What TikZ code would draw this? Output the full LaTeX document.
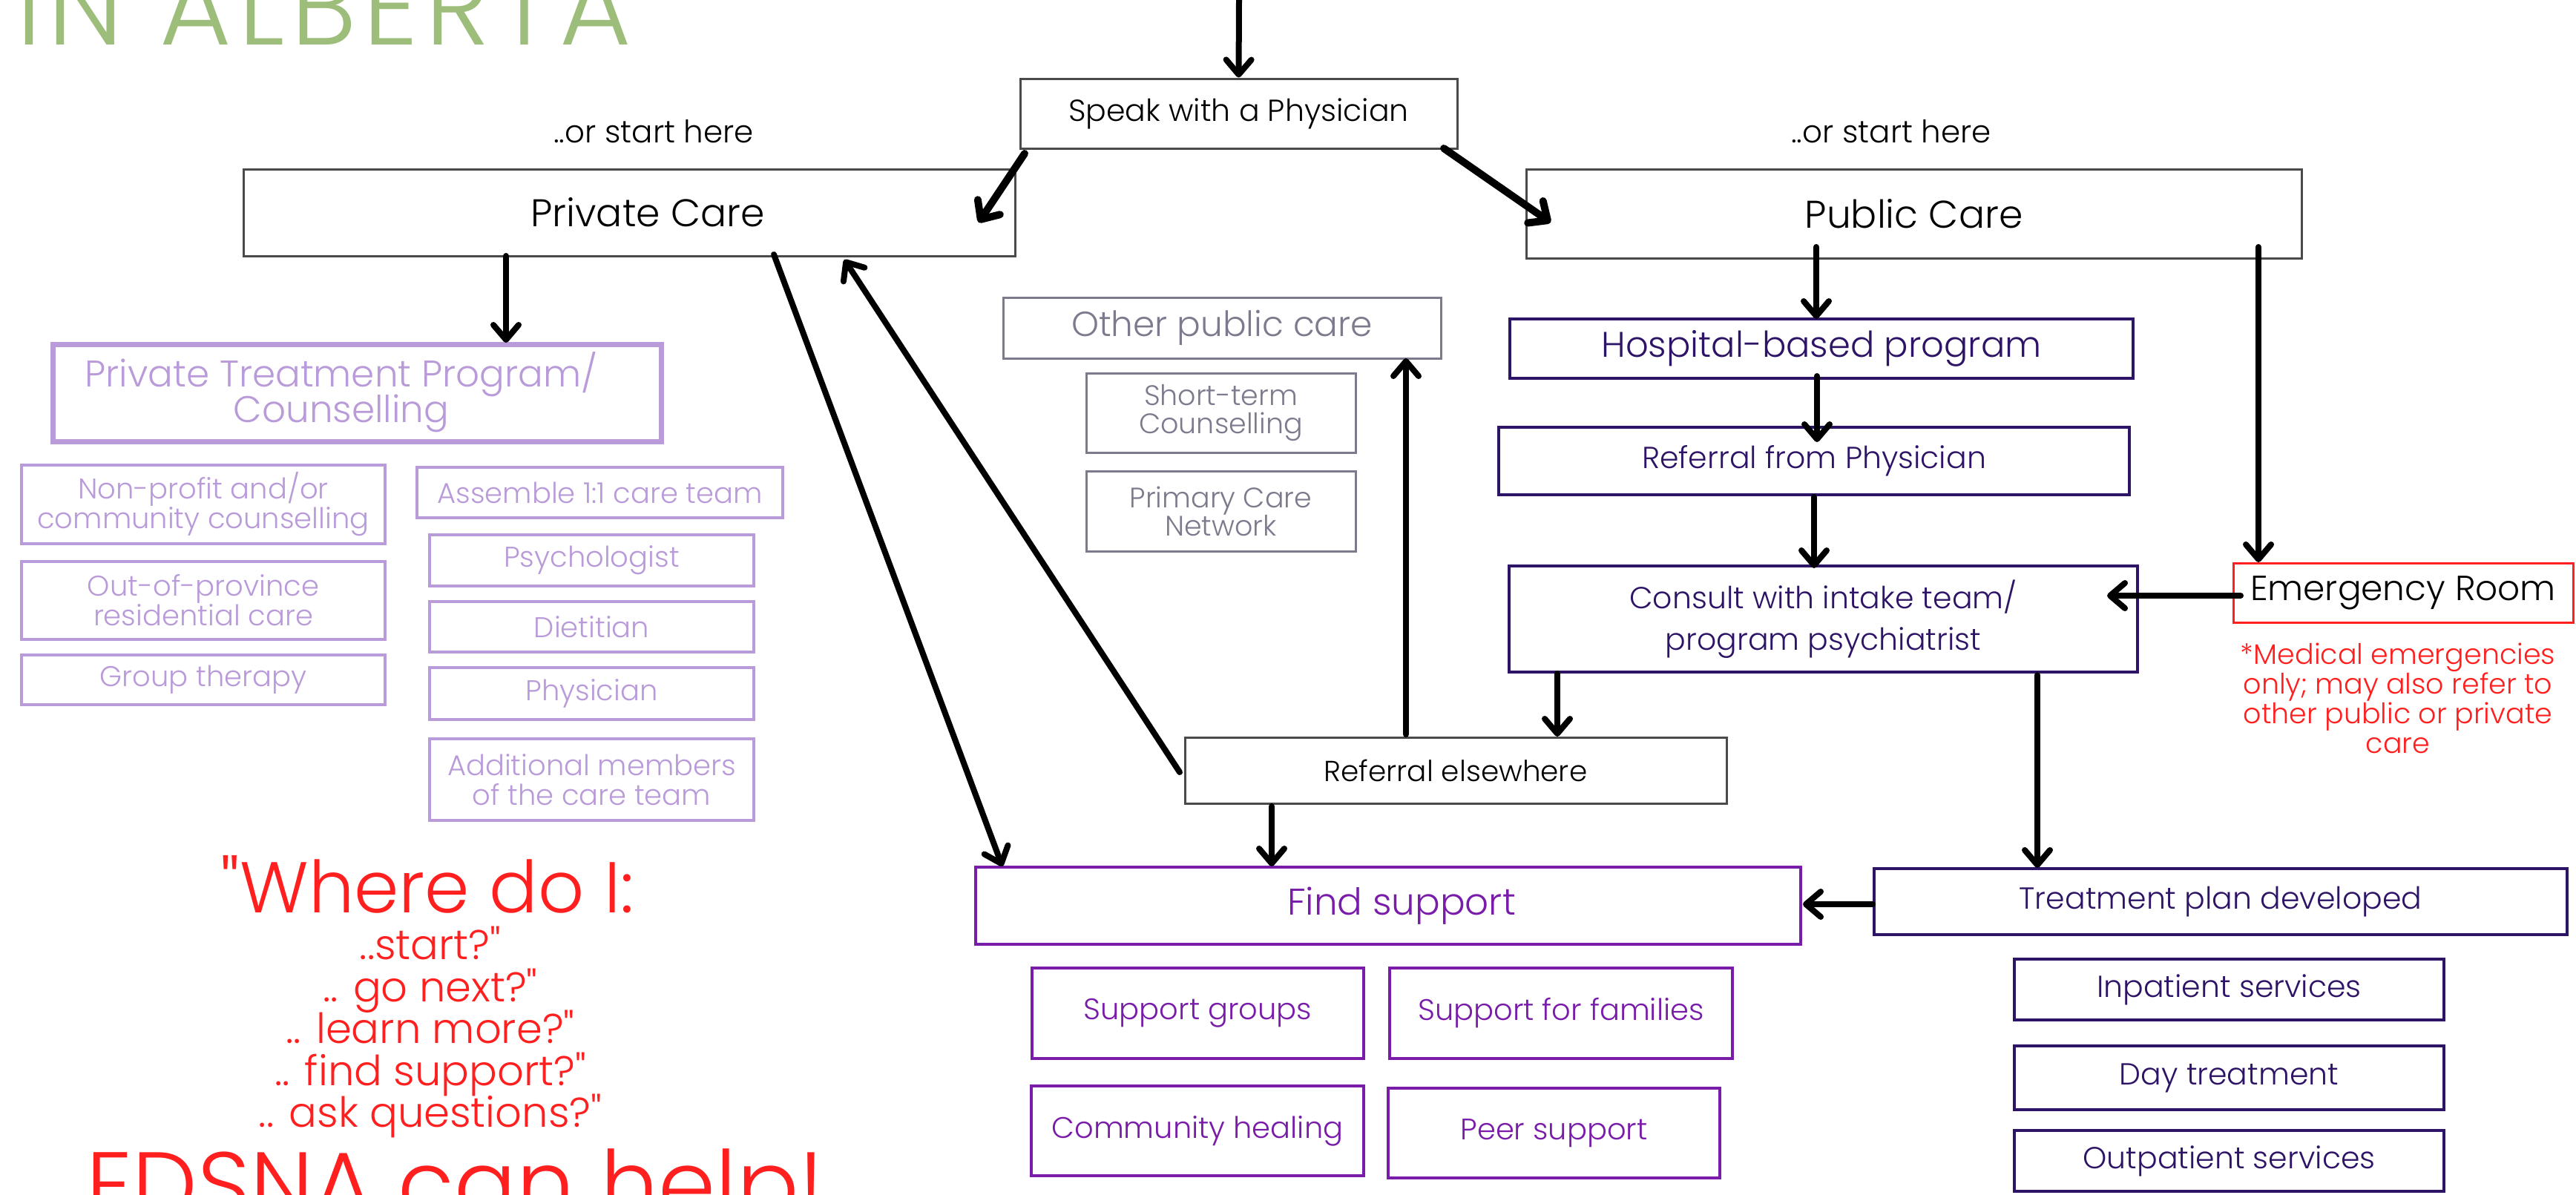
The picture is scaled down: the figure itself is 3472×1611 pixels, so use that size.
\documentclass[tikz,border=0pt]{standalone}
\usepackage{fontspec}
\setmainfont{Poppins Light}[Ligatures=TeXOff]
\usetikzlibrary{arrows.meta,calc}
\definecolor{gbox}{HTML}{4A4A4A}
\definecolor{hosp}{HTML}{2E1466}
\definecolor{findc}{HTML}{7A1CAA}
\definecolor{lpur}{HTML}{B99BDA}
\definecolor{opc}{HTML}{7C7A8C}
\definecolor{titleg}{HTML}{9DBD7A}
\definecolor{redc}{HTML}{FF1F1F}
\newcommand{\fsz}[1]{\fontsize{#1}{#1}\selectfont}
\newcommand{\fszl}[2]{\fontsize{#1}{#2}\selectfont}
\begin{document}
\begin{tikzpicture}[x=1pt,y=-1pt,
  bx/.style={draw=gbox, line width=3pt, inner sep=0pt, align=center, text=black},
  hbx/.style={draw=hosp, line width=4pt, inner sep=0pt, align=center, text=hosp},
  fbx/.style={draw=findc, line width=4pt, inner sep=0pt, align=center, text=findc},
  lbx/.style={draw=lpur, line width=4pt, inner sep=0pt, align=center, text=lpur},
  obx/.style={draw=opc, line width=3pt, inner sep=0pt, align=center, text=opc},
  rbx/.style={draw=redc, line width=3pt, inner sep=0pt, align=center, text=black},
  wh/.style 2 args={minimum width=#1pt, minimum height=#2pt},
  arr/.style={line width=8pt, line cap=round, -{Straight Barb[length=20pt,width=34pt,round]}},
  thickarr/.style={line width=10pt, line cap=round, -{Straight Barb[length=20pt,width=36pt,round]}},
  plain/.style={inner sep=0pt}
]
\useasboundingbox (0,0) rectangle (3472,1611);
\fill[white] (0,0) rectangle (3472,1611);

% title
\node[plain, anchor=base west, text=titleg] (title) at (22,60)
  {\fsz{148}\addfontfeatures{LetterSpace=6}IN ALBERTA};

% top row
\node[bx, wh={589}{94}, font=\fsz{41}] (speak) at (1669.5,153) {Speak with a Physician};
\node[plain, font=\fsz{42}] (orl) at (881,177) {..or start here};
\node[plain, font=\fsz{42}] (orr) at (2549,177) {..or start here};
\node[bx, wh={1040}{117}, font=\fsz{52}] (private) at (848,286.5) {\hspace*{50pt}Private Care};
\node[bx, wh={1045}{120}, font=\fsz{52}] (public) at (2579.5,288) {Public Care};

% public branch
\node[hbx, wh={840}{80}, font=\fsz{48}] (hosp) at (2455,470) {Hospital-based program};
\node[hbx, wh={850}{91}, font=\fsz{41}] (refphys) at (2445,621.5) {Referral from Physician};
\node[hbx, wh={847}{143}, font=\fszl{41}{56}] (consult) at (2457.5,834.5)
  {Consult with intake team/\\program psychiatrist};
\node[rbx, wh={458}{80}, font=\fsz{47}] (er) at (3239,799) {Emergency Room};
\node[plain, text=redc, align=center, font=\fszl{38}{40}] (ernote) at (3232,941)
  {*Medical emergencies\\only; may also refer to\\other public or private\\care};
\node[hbx, wh={934}{89}, font=\fsz{41}] (treat) at (2993,1215.5) {Treatment plan developed};
\node[hbx, wh={579}{82}, font=\fsz{41}] (inp) at (3004.5,1334) {Inpatient services};
\node[hbx, wh={579}{86}, font=\fsz{41}] (day) at (3004.5,1453) {Day treatment};
\node[hbx, wh={579}{82}, font=\fsz{41}] (outp) at (3004.5,1565) {Outpatient services};

% middle
\node[obx, wh={590}{82}, font=\fsz{47}] (opc) at (1647,442) {Other public care};
\node[obx, wh={363}{107}, font=\fszl{38}{38}] (short) at (1645.5,557) {Short-term\\Counselling};
\node[obx, wh={363}{108}, font=\fszl{38}{38}] (pcn) at (1645.5,689) {Primary Care\\Network};
\node[bx, wh={730}{89}, font=\fsz{39}] (refelse) at (1962,1038.5) {Referral elsewhere};
\node[fbx, wh={1112}{104}, font=\fsz{50}] (find) at (1871,1221) {\hspace*{36pt}Find support};
\node[fbx, wh={447}{122}, font=\fsz{40}] (sg) at (1614.5,1366) {Support groups};
\node[fbx, wh={462}{122}, font=\fsz{40}] (sf) at (2104,1366) {Support for families};
\node[fbx, wh={448}{121}, font=\fsz{40}] (ch) at (1614,1524.5) {Community healing};
\node[fbx, wh={447}{121}, font=\fsz{40}] (ps) at (2094.5,1527.5) {Peer support};

% left private branch
\node[lbx, line width=7pt, wh={820}{131}, font=\fsz{50}] (ptp) at (481,529.5)
  {\begin{tabular}{@{}c@{}}Private Treatment Program/\\[-4pt]Counselling\end{tabular}\hspace*{42pt}};
\node[lbx, wh={490}{106}, font=\fszl{38.5}{40}] (np) at (274,680) {Non-profit and/or\\community counselling};
\node[lbx, wh={490}{105}, font=\fszl{38.5}{40}] (oop) at (274,809.5) {Out-of-province\\residential care};
\node[lbx, wh={490}{67}, font=\fsz{38.5}] (gt) at (274,916.5) {Group therapy};
\node[lbx, wh={493}{68}, font=\fsz{38.5}] (asm) at (808.5,664) {Assemble 1:1 care team};
\node[lbx, wh={437}{69}, font=\fsz{38.5}] (psy) at (797.5,755.5) {Psychologist};
\node[lbx, wh={437}{68}, font=\fsz{38.5}] (diet) at (797.5,845) {Dietitian};
\node[lbx, wh={437}{70}, font=\fsz{38.5}] (phys) at (797.5,935) {Physician};
\node[lbx, wh={437}{110}, font=\fszl{38.5}{40}] (add) at (797.5,1051) {Additional members\\of the care team};

% red text
\node[plain, anchor=base, text=redc, font=\fsz{97}] (where) at (576,1230) {"Where do I:};
\node[plain, anchor=base, text=redc, font=\fsz{56}] (q1) at (580,1293) {..start?"};
\node[plain, anchor=base, text=redc, font=\fsz{56}] (q2) at (580,1350) {.. go next?"};
\node[plain, anchor=base, text=redc, font=\fsz{56}] (q3) at (580,1406) {.. learn more?"};
\node[plain, anchor=base, text=redc, font=\fsz{56}] (q4) at (580,1463) {.. find support?"};
\node[plain, anchor=base, text=redc, font=\fsz{56}] (q5) at (580,1519) {.. ask questions?"};
\node[plain, anchor=base west, text=redc, font=\fsz{124}] (edsna) at (116,1640) {EDSNA can help!};

% coordinates for connector ends
\coordinate (topin) at (1670,0);
\coordinate (sp1) at (1381,207);
\coordinate (sp2) at (1319,300);
\coordinate (sp3) at (1946,200);
\coordinate (sp4) at (2090,300);
\coordinate (pr1) at (682,345);
\coordinate (pr2) at (682,462);
\coordinate (pr3) at (1043,343);
\coordinate (fi1) at (1351,1168);
\coordinate (re1) at (1590,1041);
\coordinate (pr4) at (1138,350);
\coordinate (re2) at (1714,1087);
\coordinate (fi2) at (1714,1168);
\coordinate (re3) at (1895,990);
\coordinate (op1) at (1895,483);
\coordinate (pu1) at (2448,333);
\coordinate (ho1) at (2448,430);
\coordinate (ho2) at (2449,507);
\coordinate (rp1) at (2449,596);
\coordinate (rp2) at (2445,670);
\coordinate (co1) at (2445,766);
\coordinate (pu2) at (3044,333);
\coordinate (er1) at (3044,758);
\coordinate (er2) at (3020,803);
\coordinate (co2) at (2840,803);
\coordinate (co3) at (2099,908);
\coordinate (re4) at (2099,993);
\coordinate (co4) at (2746,910);
\coordinate (tr1) at (2746,1170);
\coordinate (tr2) at (2524,1219);
\coordinate (fi3) at (2430,1219);

\draw[arr] (topin) -- (speak.north);
\draw[thickarr] (sp1) -- (sp2);
\draw[thickarr] (sp3) -- (sp4);
\draw[arr] (pr1) -- (pr2);
\draw[arr] (pr3) -- (fi1);
\draw[arr] (re1) -- (pr4);
\draw[arr] (re2) -- (fi2);
\draw[arr] (re3) -- (op1);
\draw[arr] (pu1) -- (ho1);
\draw[arr] (ho2) -- (rp1);
\draw[arr] (rp2) -- (co1);
\draw[arr] (pu2) -- (er1);
\draw[arr] (er2) -- (co2);
\draw[arr] (co3) -- (re4);
\draw[arr] (co4) -- (tr1);
\draw[arr] (tr2) -- (fi3);
\end{tikzpicture}
\end{document}
